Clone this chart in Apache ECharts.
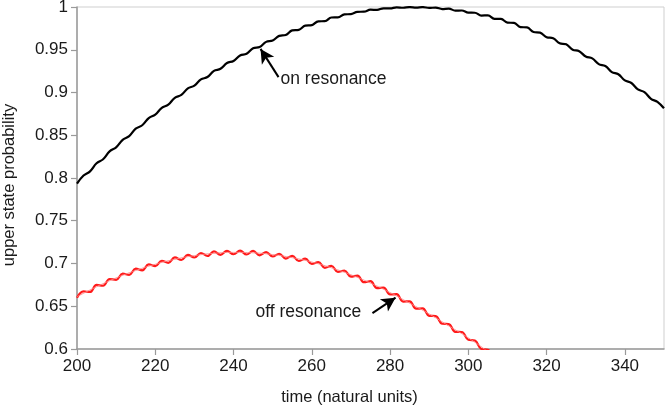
<!DOCTYPE html>
<html>
<head>
<meta charset="utf-8">
<script src="https://cdn.jsdelivr.net/npm/echarts@6/dist/echarts.min.js"></script>
<style>
html,body{margin:0;padding:0;background:#fff;}
#chart{width:666px;height:410px;}
</style>
</head>
<body>
<div id="chart"></div>
<script>
// time samples (natural units), 5/3 apart
const times = [200,201.67,203.33,205,206.67,208.33,210,211.67,213.33,215,216.67,218.33,220,221.67,223.33,225,226.67,228.33,230,231.67,233.33,235,236.67,238.33,240,241.67,243.33,245,246.67,248.33,250,251.67,253.33,255,256.67,258.33,260,261.67,263.33,265,266.67,268.33,270,271.67,273.33,275,276.67,278.33,280,281.67,283.33,285,286.67,288.33,290,291.67,293.33,295,296.67,298.33,300,301.67,303.33,305,306.67,308.33,310,311.67,313.33,315,316.67,318.33,320,321.67,323.33,325,326.67,328.33,330,331.67,333.33,335,336.67,338.33,340,341.67,343.33,345,346.67,348.33,350];

// upper state probability, on resonance (black)
const onResonance = [.7935,.8029,.8078,.8172,.8219,.8311,.8358,.8446,.8489,.8577,.8617,.8701,.8741,.8821,.8858,.8938,.8971,.9048,.9081,.9153,.9181,.9253,.9277,.9345,.9369,.9433,.9453,.9517,.9532,.9592,.9607,.9662,.9672,.9727,.9733,.9782,.9788,.9833,.9834,.9877,.9878,.9913,.9917,.9944,.9945,.9969,.9966,.9985,.9983,.9996,.9991,.9999,.9993,.9999,.9989,.9993,.9976,.9981,.9958,.9959,.9934,.9933,.9900,.9902,.9862,.9860,.9818,.9814,.9765,.9761,.9708,.9700,.9647,.9634,.9576,.9563,.9501,.9483,.9421,.9399,.9332,.9310,.9239,.9213,.9142,.9111,.9036,.9005,.8926,.8891,.8815];

// upper state probability, off resonance (red)
const offResonance = [.6600,.6673,.6667,.6750,.6740,.6819,.6809,.6882,.6867,.6940,.6920,.6989,.6969,.7032,.7008,.7071,.7041,.7100,.7070,.7123,.7088,.7141,.7101,.7148,.7108,.7150,.7105,.7147,.7096,.7133,.7082,.7114,.7058,.7090,.7029,.7056,.6995,.7017,.6950,.6972,.6901,.6917,.6846,.6858,.6781,.6793,.6712,.6719,.6638,.6641,.6555,.6558,.6472,.6474,.6388,.6385,.6295,.6292,.6201,.6199,.6108,.6099,.6001,.5992,.5891,.5879,.5778];

// smooth (averaged) off-resonance trace
const avgTimes = [200,205,210,215,220,225,230,235,240,245,250,255,260,265,270,275,280,285,290,295,300,305,310];
const offResonanceAvg = [.6612,.6728,.6831,.6918,.6991,.7049,.7092,.7119,.7130,.7125,.7104,.7068,.7017,.6950,.6868,.6771,.6660,.6536,.6410,.6270,.6130,.5970,.5800];

// annotations: [tail time, tail prob, tip time, tip prob]
const onArrow = [251.5, 0.918, 246.9, 0.951];
const offArrow = [275.5, 0.642, 281.4, 0.660];
const onLabel = 'on resonance';
const offLabel = 'off resonance';

const xTitle = 'time (natural units)';
const yTitle = 'upper state probability';

const pair = (xs, ys) => ys.map((v, i) => [xs[i], v]);
const FONT = '"Liberation Sans", Arial, Helvetica, sans-serif';

const chart = echarts.init(document.getElementById('chart'), null, {renderer: 'canvas'});
chart.setOption({
  animation: false,
  backgroundColor: '#ffffff',
  grid: {left: 77, right: 2, top: 7, bottom: 61, show: true, borderColor: '#cfcfcf', borderWidth: 1,
         containLabel: false, outerBoundsMode: 'none'},
  xAxis: {
    type: 'value', min: 200, max: 350, interval: 20,
    name: xTitle, nameLocation: 'middle', nameGap: 40,
    nameTextStyle: {fontFamily: FONT, fontSize: 16.5, color: '#1a1a1a', padding: [0, 42, 0, 0]},
    axisLine: {show: true, lineStyle: {color: '#9a9a9a', width: 1.5}},
    axisTick: {show: true, inside: false, length: 6, lineStyle: {color: '#9a9a9a', width: 1.2}},
    axisLabel: {fontFamily: FONT, fontSize: 17, color: '#1a1a1a', margin: 9, showMaxLabel: false},
    splitLine: {show: false}
  },
  yAxis: {
    type: 'value', min: 0.6, max: 1, interval: 0.05,
    name: yTitle, nameLocation: 'middle', nameGap: 59, nameRotate: 90,
    nameTextStyle: {fontFamily: FONT, fontSize: 16.5, color: '#1a1a1a', padding: [0, 14, 0, 0]},
    axisLine: {show: true, lineStyle: {color: '#9a9a9a', width: 1.5}},
    axisTick: {show: true, inside: false, length: 6, lineStyle: {color: '#9a9a9a', width: 1.2}},
    axisLabel: {fontFamily: FONT, fontSize: 17, color: '#1a1a1a', margin: 9},
    splitLine: {show: false}
  },
  series: [
    {
      name: 'on resonance', type: 'line', data: pair(times, onResonance),
      smooth: 0.4, showSymbol: false, symbol: 'none', clip: true,
      lineStyle: {color: '#000000', width: 2.2},
      markLine: {
        silent: true, animation: false,
        symbol: ['none', 'arrow'], symbolSize: [11, 14],
        label: {show: false},
        lineStyle: {color: '#000000', width: 2, type: 'solid'},
        emphasis: {disabled: true},
        data: [
          [{coord: [onArrow[0], onArrow[1]]}, {coord: [onArrow[2], onArrow[3]]}],
          [{coord: [offArrow[0], offArrow[1]]}, {coord: [offArrow[2], offArrow[3]]}]
        ]
      }
    },
    {
      name: 'off resonance', type: 'line', data: pair(times, offResonance),
      smooth: 0.4, showSymbol: false, symbol: 'none', clip: true,
      lineStyle: {color: '#ff1a1a', width: 2.2}
    },
    {
      name: 'off resonance average', type: 'line', data: pair(avgTimes, offResonanceAvg),
      smooth: true, showSymbol: false, symbol: 'none', clip: true,
      lineStyle: {color: '#ff8a8a', width: 0.9}
    }
  ]
});

// annotation texts positioned from data coordinates
const onPos = chart.convertToPixel({gridIndex: 0}, [onArrow[0], onArrow[1]]);
const offPos = chart.convertToPixel({gridIndex: 0}, [offArrow[0], offArrow[1]]);
chart.setOption({
  graphic: [
    {type: 'text', left: onPos[0] + 2, top: onPos[1] - 7,
     style: {text: onLabel, fontFamily: FONT, fontSize: 17.5, fill: '#1a1a1a'}},
    {type: 'text', left: offPos[0] - 117, top: offPos[1] - 10,
     style: {text: offLabel, fontFamily: FONT, fontSize: 17.5, fill: '#1a1a1a'}}
  ]
});
</script>
</body>
</html>
